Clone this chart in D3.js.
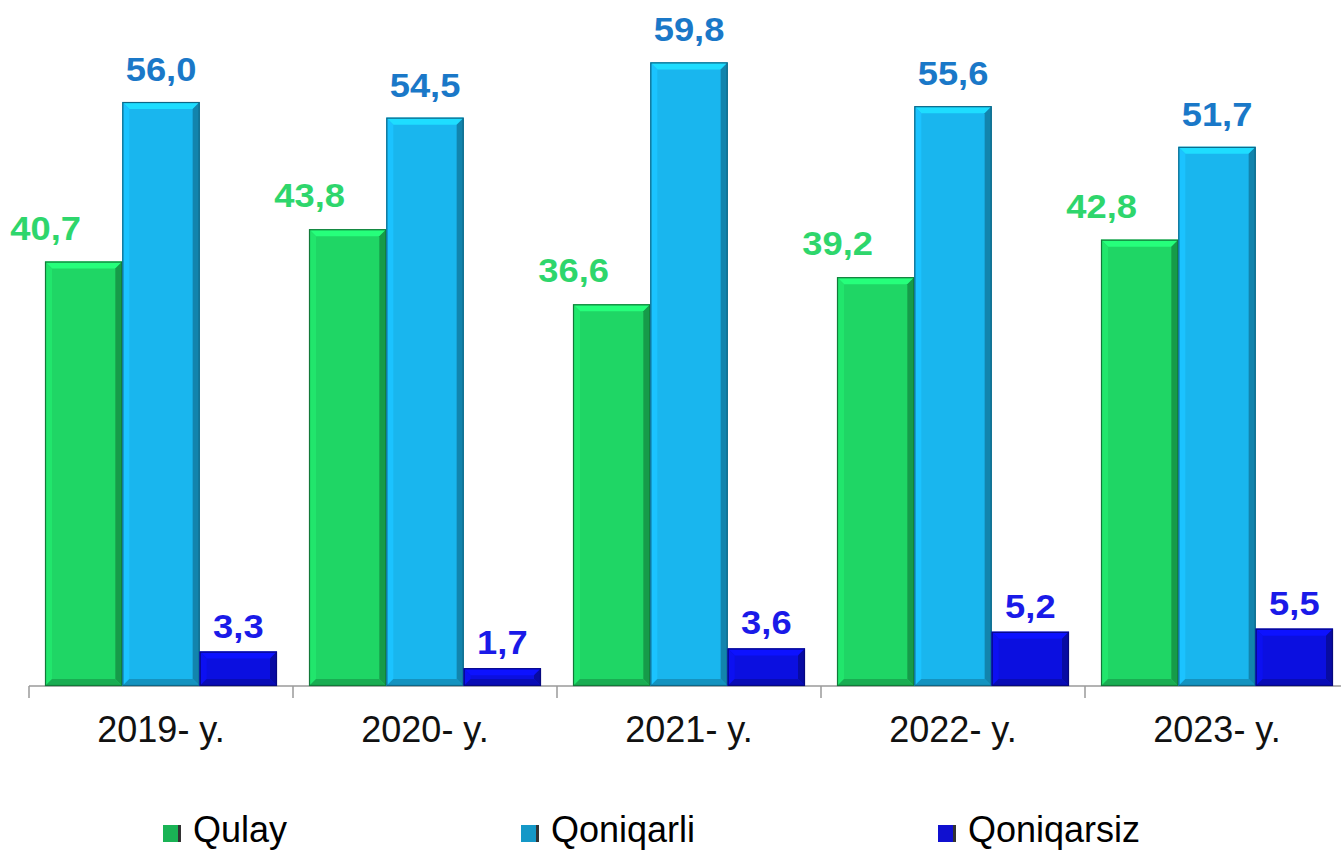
<!DOCTYPE html>
<html>
<head>
<meta charset="utf-8">
<script src="https://cdn.jsdelivr.net/npm/d3@7"></script>
<style>
  html, body { margin: 0; padding: 0; background: #ffffff; }
  svg { display: block; }
</style>
</head>
<body>
<svg id="chart" width="1341" height="850"></svg>
<script>
// Survey results by year (percent)
const years = ["2019- y.", "2020- y.", "2021- y.", "2022- y.", "2023- y."];
const seriesNames = ["Qulay", "Qoniqarli", "Qoniqarsiz"];
const qulay = [40.7, 43.8, 36.6, 39.2, 42.8];
const qoniqarli = [56.0, 54.5, 59.8, 55.6, 51.7];
const qoniqarsiz = [3.3, 1.7, 3.6, 5.2, 5.5];
const seriesValues = [qulay, qoniqarli, qoniqarsiz];

const barColors = ["#1fd665", "#19b6ee", "#0b0fe0"];
const labelColors = ["#2ed66c", "#1a78c8", "#1a1ae8"];

const svg = d3.select("#chart");
const fmt = v => v.toFixed(1).replace(".", ",");

const baseY = 686;
const x0 = d3.scaleBand().domain(years).range([29, 1349]).padding(0);
const x1 = d3.scaleBand().domain(seriesNames).range([16, 248]).padding(0);
const y = d3.scaleLinear().domain([0, 60]).range([baseY, 60.3]);

// Axis along the bottom with tick marks between categories
const axis = d3.axisBottom(x0).tickSize(0).tickFormat(d => d);
const gAxis = svg.append("g").attr("transform", `translate(0,${baseY})`).call(axis);
gAxis.select(".domain").remove();
gAxis.append("line").attr("x1", 29).attr("x2", 1341).attr("y1", 0).attr("y2", 0)
  .attr("stroke", "#9a9a9a").attr("stroke-width", 1.5);
const boundaries = years.map(d => x0(d)).concat([x0.range()[1]]);
gAxis.selectAll("line.sep").data(boundaries).enter().append("line")
  .attr("class", "sep")
  .attr("x1", d => d).attr("x2", d => d).attr("y1", 0).attr("y2", 12)
  .attr("stroke", "#9a9a9a").attr("stroke-width", 1.5);
gAxis.selectAll("text")
  .attr("y", 56).attr("dy", 0)
  .attr("font-family", "Arial, 'Liberation Sans', sans-serif")
  .attr("font-size", 36).attr("fill", "#111");

// Bevelled bar drawing
function bevelBar(g, bx, by, w, h, color) {
  const b = Math.min(7, h / 2);
  const c = d3.color(color);
  g.append("rect").attr("x", bx).attr("y", by).attr("width", w).attr("height", h).attr("fill", color);
  const poly = (pts, fill) => g.append("polygon")
    .attr("points", pts.map(p => p.join(",")).join(" ")).attr("fill", fill);
  poly([[bx, by], [bx + w, by], [bx + w - b, by + b], [bx + b, by + b]], c.brighter(0.55).formatHex());
  poly([[bx, by], [bx + b, by + b], [bx + b, by + h - b], [bx, by + h]], c.brighter(0.2).formatHex());
  poly([[bx + w, by], [bx + w, by + h], [bx + w - b, by + h - b], [bx + w - b, by + b]], c.darker(0.9).formatHex());
  poly([[bx, by + h], [bx + w, by + h], [bx + w - b, by + h - b], [bx + b, by + h - b]], c.darker(0.6).formatHex());
  g.append("rect").attr("x", bx + 0.5).attr("y", by + 0.5).attr("width", w - 1).attr("height", h - 1)
    .attr("fill", "none").attr("stroke", c.darker(1.6).formatHex()).attr("stroke-width", 1.2);
}

const bars = svg.append("g");
years.forEach((yr, i) => {
  seriesNames.forEach((s, k) => {
    const v = seriesValues[k][i];
    const bx = x0(yr) + x1(s);
    const by = y(v);
    bevelBar(bars, bx, by, x1.bandwidth(), baseY - by, barColors[k]);
  });
});

// Value labels
const labels = svg.append("g")
  .attr("font-family", "Arial, 'Liberation Sans', sans-serif")
  .attr("font-weight", "bold").attr("font-size", 33).attr("text-anchor", "middle");
years.forEach((yr, i) => {
  seriesNames.forEach((s, k) => {
    const v = seriesValues[k][i];
    let lx = x0(yr) + x1(s) + x1.bandwidth() / 2;
    let ly = y(v) - 21;
    if (k === 0) { lx -= 38; ly = y(v) - 22; }
    if (k === 2) ly = y(v) - 14;
    labels.append("text")
      .attr("transform", `translate(${lx},${ly}) scale(1.1,1)`)
      .attr("fill", labelColors[k])
      .text(fmt(v));
  });
});

// Legend
const legendX = [163, 521, 938];
const legend = svg.append("g");
seriesNames.forEach((s, k) => {
  const g = legend.append("g").attr("transform", `translate(${legendX[k]},825)`);
  const c = d3.color(barColors[k]);
  g.append("rect").attr("width", 18).attr("height", 17).attr("fill", k === 2 ? "#1010d0" : c.darker(0.5).formatHex());
  g.append("rect").attr("x", 15).attr("width", 3).attr("height", 17).attr("fill", "#333");
  g.append("text").attr("x", 30).attr("y", 17)
    .attr("font-family", "Arial, 'Liberation Sans', sans-serif")
    .attr("font-size", 36).attr("fill", "#000").text(s);
});
</script>
</body>
</html>
